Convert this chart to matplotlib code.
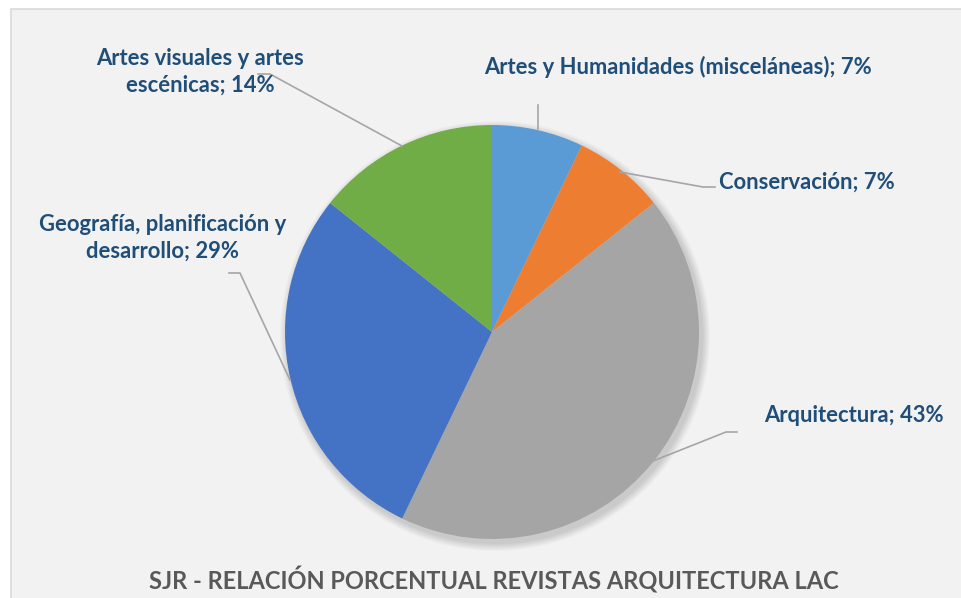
import matplotlib.pyplot as plt
from matplotlib.patches import Rectangle, Circle

# revistas por area (SJR)
categories = ['Artes y Humanidades (misceláneas)', 'Conservación', 'Arquitectura',
              'Geografía, planificación y\ndesarrollo', 'Artes visuales y artes\nescénicas']
counts = [1, 1, 6, 4, 2]
pct_labels = ['7%', '7%', '43%', '29%', '14%']
colors = ['#5B9BD5', '#ED7D31', '#A5A5A5', '#4472C4', '#70AD47']
title = 'SJR - RELACIÓN PORCENTUAL REVISTAS ARQUITECTURA LAC'

plt.rcParams['font.family'] = ['Lato', 'DejaVu Sans']

W, H = 961, 598
fig = plt.figure(figsize=(W / 100, H / 100), dpi=100)
fig.patch.set_facecolor('white')
ax = fig.add_axes([0, 0, 1, 1])

# chart area background
ax.add_patch(Rectangle((10.5, -5), W, H - 8.5 + 5, facecolor='#F2F2F2',
                       edgecolor='#D9D9D9', linewidth=1.2, zorder=0))

cx, cy, r = 492, H - 332, 207

# soft shadow
for k in range(8):
    ax.add_patch(Circle((cx + 3, cy - 4), r + 8 - k, facecolor='black',
                        edgecolor='none', alpha=0.018, zorder=1))

ax.pie(counts, colors=colors, startangle=90, counterclock=False,
       center=(cx, cy), radius=r, frame=True,
       wedgeprops=dict(linewidth=0, zorder=2))
ax.set_xlim(0, W)
ax.set_ylim(0, H)
ax.set_aspect('equal')
ax.axis('off')

lbl_color = '#1F4E79'
line_color = '#A6A6A6'
fs = 15.8

def px(x, y):
    return (x, H - y)

# leader lines (pixel coords of the reference layout)
leaders = [
    [(538, 130), (538, 105)],
    [(620, 172), (703, 187), (715, 187)],
    [(653, 461), (726, 432), (737, 432)],
    [(290, 380), (240, 273), (229, 273)],
    [(402, 146), (270, 74), (258, 74)],
]
for pts in leaders:
    xs = [px(*p)[0] for p in pts]
    ys = [px(*p)[1] for p in pts]
    ax.plot(xs, ys, color=line_color, lw=1.2, zorder=3)

label_pos = [(678, 67), (807, 182), (854, 415), (163, 238), (200, 72)]
for cat, p, (x, y) in zip(categories, pct_labels, label_pos):
    ax.text(*px(x, y), f'{cat}; {p}', ha='center', va='center', fontsize=fs,
            fontweight='bold', color=lbl_color, linespacing=1.36, zorder=4)

ax.text(*px(494, 580), title, ha='center', va='center', fontsize=17,
        fontweight='bold', color='#595959', zorder=4)

fig.savefig('out.png', dpi=100)
